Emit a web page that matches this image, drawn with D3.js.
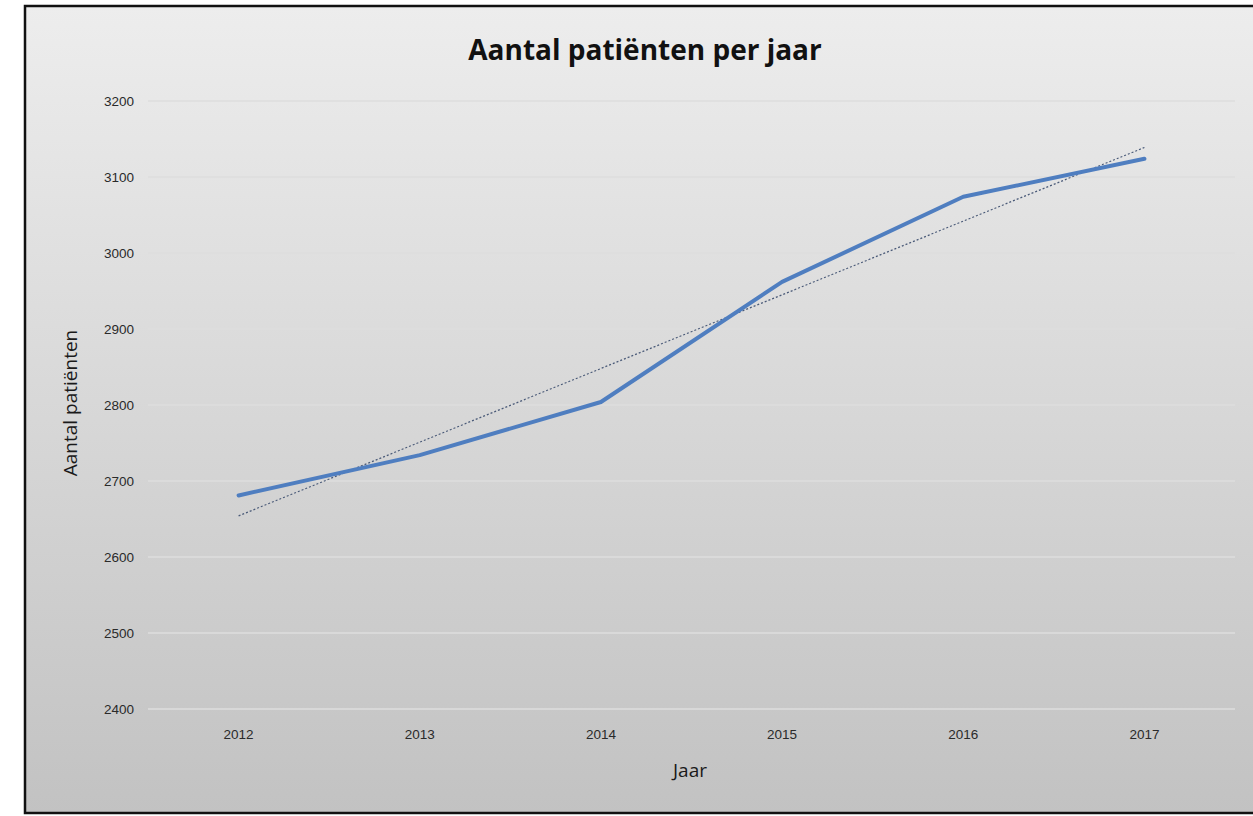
<!DOCTYPE html>
<html>
<head>
<meta charset="utf-8">
<script src="https://cdn.jsdelivr.net/npm/d3@7"></script>
<style>
  html, body { margin: 0; padding: 0; background: #ffffff; }
  svg { display: block; font-family: "Open Sans", "DejaVu Sans", sans-serif; }
</style>
</head>
<body>
<div id="chart"></div>
<script>
// chart data
const years = ['2012', '2013', '2014', '2015', '2016', '2017'];
const patients = [2681, 2734, 2804, 2962, 3074, 3124];
const yTicks = [2400, 2500, 2600, 2700, 2800, 2900, 3000, 3100, 3200];

const W = 1253, H = 816;
const margin = { top: 101, right: 18, bottom: 107, left: 148 };
const width = W - margin.left - margin.right;
const height = H - margin.top - margin.bottom;

const svg = d3.select('#chart')
    .append('svg')
    .attr('width', W)
    .attr('height', H);

// background gradient
const defs = svg.append('defs');
const grad = defs.append('linearGradient')
    .attr('id', 'bg')
    .attr('x1', 0).attr('y1', 0).attr('x2', 0).attr('y2', 1);
grad.append('stop').attr('offset', '0%').attr('stop-color', '#ededed');
grad.append('stop').attr('offset', '100%').attr('stop-color', '#c2c2c2');

svg.append('rect')
    .attr('x', 25).attr('y', 6)
    .attr('width', W - 25 + 5).attr('height', 807)
    .attr('fill', 'url(#bg)')
    .attr('stroke', '#111')
    .attr('stroke-width', 2.5);

const g = svg.append('g')
    .attr('transform', `translate(${margin.left},${margin.top})`);

const x = d3.scaleBand()
    .domain(years)
    .range([0, width]);

const y = d3.scaleLinear()
    .domain([2400, 3200])
    .range([height, 0]);

// gridlines
g.append('g')
    .selectAll('line')
    .data(yTicks)
    .enter()
    .append('line')
    .attr('x1', 0)
    .attr('x2', width)
    .attr('y1', d => y(d))
    .attr('y2', d => y(d))
    .attr('stroke', '#dedede')
    .attr('stroke-width', 1.5);

// y axis
const yAxis = g.append('g')
    .call(d3.axisLeft(y).tickValues(yTicks).tickFormat(d3.format('d')).tickSize(0).tickPadding(14));
yAxis.select('.domain').remove();
yAxis.selectAll('text')
    .attr('fill', '#2a2a2a')
    .style('font-size', '13.5px');

// x axis
const xAxis = g.append('g')
    .attr('transform', `translate(0,${height})`)
    .call(d3.axisBottom(x).tickSize(0).tickPadding(20));
xAxis.select('.domain').remove();
xAxis.selectAll('text')
    .attr('fill', '#2a2a2a')
    .style('font-size', '13.5px');

// linear trend line
const xs = years.map((d, i) => i);
const mx = d3.mean(xs), my = d3.mean(patients);
const slope = d3.sum(xs, (xi, i) => (xi - mx) * (patients[i] - my)) / d3.sum(xs, xi => (xi - mx) ** 2);
const intercept = my - slope * mx;
const trend = [0, years.length - 1].map(i => ({ year: years[i], value: intercept + slope * i }));

const cx = d => x(d) + x.bandwidth() / 2;

g.append('path')
    .datum(trend)
    .attr('fill', 'none')
    .attr('stroke', '#4a5a78')
    .attr('stroke-width', 1.2)
    .attr('stroke-dasharray', '2,2')
    .attr('d', d3.line().x(d => cx(d.year)).y(d => y(d.value)));

// data line
g.append('path')
    .datum(years.map((yr, i) => ({ year: yr, value: patients[i] })))
    .attr('fill', 'none')
    .attr('stroke', '#4f7ec0')
    .attr('stroke-width', 4)
    .attr('stroke-linejoin', 'round')
    .attr('stroke-linecap', 'round')
    .attr('d', d3.line().x(d => cx(d.year)).y(d => y(d.value)));

// title
svg.append('text')
    .attr('x', 645)
    .attr('y', 60)
    .attr('text-anchor', 'middle')
    .style('font-size', '28px')
    .style('font-weight', 'bold')
    .attr('fill', '#111')
    .text('Aantal patiënten per jaar');

// axis titles
svg.append('text')
    .attr('transform', 'rotate(-90)')
    .attr('x', -403)
    .attr('y', 77)
    .attr('text-anchor', 'middle')
    .style('font-size', '19px')
    .attr('fill', '#1a1a1a')
    .text('Aantal patiënten');

svg.append('text')
    .attr('x', 690)
    .attr('y', 777)
    .attr('text-anchor', 'middle')
    .style('font-size', '19px')
    .attr('fill', '#1a1a1a')
    .text('Jaar');
</script>
</body>
</html>
